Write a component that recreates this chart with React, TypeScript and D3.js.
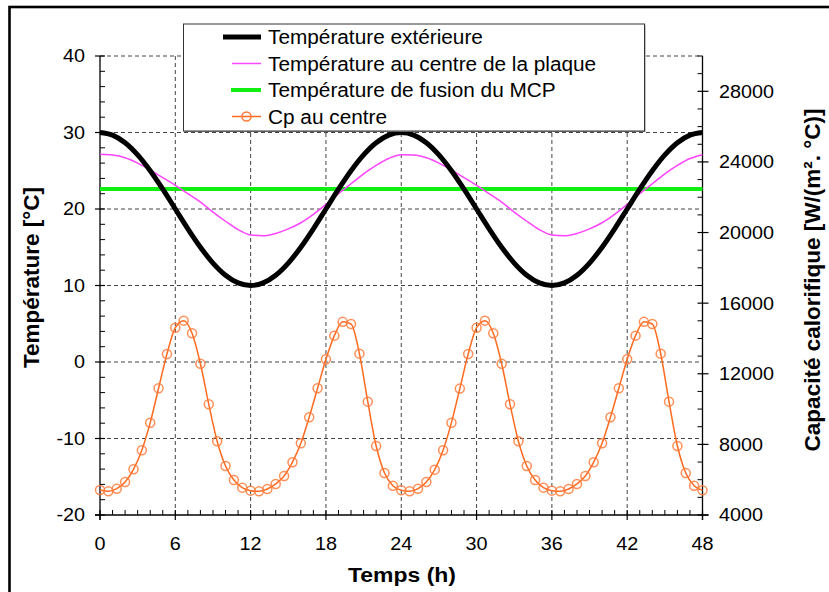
import React from "react";
import * as d3 from "d3";

// ---- data ----
const hours: number[] = [
  0, 1, 2, 3, 4, 5, 6, 7, 8, 9, 10, 11, 12, 13, 14, 15, 16, 17, 18, 19, 20, 21, 22, 23, 24,
  25, 26, 27, 28, 29, 30, 31, 32, 33, 34, 35, 36, 37, 38, 39, 40, 41, 42, 43, 44, 45, 46, 47, 48,
];
const tempExterieure: number[] = [
  30.0, 29.66, 28.66, 27.07, 25.0, 22.59, 20.0, 17.41, 15.0, 12.93, 11.34, 10.34, 10.0,
  10.34, 11.34, 12.93, 15.0, 17.41, 20.0, 22.59, 25.0, 27.07, 28.66, 29.66, 30.0,
  29.66, 28.66, 27.07, 25.0, 22.59, 20.0, 17.41, 15.0, 12.93, 11.34, 10.34, 10.0,
  10.34, 11.34, 12.93, 15.0, 17.41, 20.0, 22.59, 25.0, 27.07, 28.66, 29.66, 30.0,
];
const tempCentre: number[] = [
  27.15, 27.05, 26.7, 26.0, 25.1, 24.1, 23.1, 22.0, 20.9, 19.6, 18.4, 17.3, 16.6,
  16.5, 16.8, 17.4, 18.2, 19.3, 20.6, 22.0, 23.3, 24.6, 25.7, 26.6, 27.1,
  27.05, 26.7, 26.0, 25.1, 24.1, 23.1, 22.0, 20.9, 19.6, 18.4, 17.3, 16.6,
  16.5, 16.8, 17.4, 18.2, 19.3, 20.6, 22.0, 23.3, 24.6, 25.7, 26.6, 27.1,
];
const tempFusion = 22.6;
const cpCentre: number[] = [
  5420, 5340, 5490, 5870, 6590, 7670, 9230, 11180, 13120, 14610, 15010, 14300, 12570,
  10270, 8180, 6780, 5980, 5550, 5380, 5340, 5470, 5760, 6210, 6990, 8060, 9540,
  11180, 12820, 14160, 14940, 14820, 13140, 10420, 7910, 6380, 5660, 5400, 5340,
  5490, 5870, 6570, 7670, 9230, 11160, 13120, 14610, 15010, 14300, 12570, 10270,
  8180, 6780, 5980, 5550, 5380, 5340, 5470, 5760, 6210, 6990, 8060, 9540, 11180,
  12820, 14160, 14940, 14820, 13140, 10420, 7910, 6380, 5660, 5400,
];
const cpTime: number[] = cpCentre.map((_, i) => (i * 48) / (cpCentre.length - 1));

const xTicks: number[] = [0, 6, 12, 18, 24, 30, 36, 42, 48];
const yLeftTicks: number[] = [-20, -10, 0, 10, 20, 30, 40];
const yRightTicks: number[] = [4000, 8000, 12000, 16000, 20000, 24000, 28000];

const legendLabels: string[] = [
  "Température extérieure",
  "Température au centre de la plaque",
  "Température de fusion du MCP",
  "Cp au centre",
];
const xTitle = "Temps (h)";
const yLeftTitle = "Température [°C]";
const yRightTitle = "Capacité calorifique [W/(m². °C)]";

const FONT = "'Liberation Sans', Arial, Helvetica, sans-serif";

export default function App() {
  const W = 829;
  const H = 592;
  const x0 = 100, x1 = 702.5, yTop = 56, yBot = 515;

  const x = d3.scaleLinear().domain([0, 48]).range([x0, x1]);
  const yL = d3.scaleLinear().domain([-20, 40]).range([yBot, yTop]);
  const yR = d3.scaleLinear().domain([4000, 30000]).range([yBot, yTop]);

  const lineL = d3
    .line<number>()
    .x((_, i) => x(hours[i]))
    .y((d) => yL(d))
    .curve(d3.curveMonotoneX);
  const lineCp = d3
    .line<number>()
    .x((_, i) => x(cpTime[i]))
    .y((d) => yR(d))
    .curve(d3.curveMonotoneX);

  const xMinor = d3.range(0, 49, 1).filter((v) => v % 6 !== 0);
  const yLMinor = d3.range(-20, 41, 2).filter((v) => v % 10 !== 0);
  const yRMinor = d3.range(4000, 30001, 1000).filter((v) => v % 4000 !== 0);

  const gridColor = "#444";
  const orange = "#ff6a1f";

  const legendRowsY = [37, 63.5, 90, 116.5];

  return (
    <svg
      width={W}
      height={H}
      style={{ position: "absolute", left: 0, top: 0, background: "#fff" }}
      fontFamily={FONT}
    >
      <rect x={0} y={0} width={W} height={H} fill="#fff" />
      {/* outer frame */}
      <rect x={9.5} y={7} width={900} height={700} fill="none" stroke="#000" strokeWidth={2.6} />

      {/* grid */}
      {xTicks.filter((t) => t !== 0 && t !== 48).map((t) => (
        <line key={"gx" + t} x1={x(t)} x2={x(t)} y1={yTop} y2={yBot} stroke={gridColor} strokeWidth={1} strokeDasharray="4,3" />
      ))}
      {yLeftTicks.filter((t) => t !== -20).map((t) => (
        <line key={"gy" + t} x1={x0} x2={x1} y1={yL(t)} y2={yL(t)} stroke={gridColor} strokeWidth={1} strokeDasharray="4,3" />
      ))}

      {/* axes lines */}
      <line x1={x0} x2={x0} y1={yTop} y2={yBot + 5} stroke="#000" strokeWidth={1.3} />
      <line x1={x1} x2={x1} y1={yTop} y2={yBot + 5} stroke="#000" strokeWidth={1.3} />
      <line x1={x0 - 5} x2={x1 + 6} y1={yBot} y2={yBot} stroke="#000" strokeWidth={1.3} />

      {/* left ticks */}
      {yLeftTicks.map((t) => (
        <line key={"lt" + t} x1={x0 - 5} x2={x0 + 5} y1={yL(t)} y2={yL(t)} stroke="#000" strokeWidth={1.2} />
      ))}
      {yLMinor.map((t) => (
        <line key={"lm" + t} x1={x0} x2={x0 + 5} y1={yL(t)} y2={yL(t)} stroke="#000" strokeWidth={1} />
      ))}
      {/* right ticks */}
      {yRightTicks.map((t) => (
        <line key={"rt" + t} x1={x1 - 5} x2={x1 + 6} y1={yR(t)} y2={yR(t)} stroke="#000" strokeWidth={1.2} />
      ))}
      {yRMinor.map((t) => (
        <line key={"rm" + t} x1={x1 - 5} x2={x1} y1={yR(t)} y2={yR(t)} stroke="#000" strokeWidth={1} />
      ))}
      {/* bottom ticks */}
      {xTicks.map((t) => (
        <line key={"bt" + t} x1={x(t)} x2={x(t)} y1={yBot - 5} y2={yBot + 5} stroke="#000" strokeWidth={1.2} />
      ))}
      {xMinor.map((t) => (
        <line key={"bm" + t} x1={x(t)} x2={x(t)} y1={yBot - 5} y2={yBot} stroke="#000" strokeWidth={1} />
      ))}

      {/* tick labels */}
      {yLeftTicks.map((t) => (
        <text key={"ll" + t} transform={`translate(85,${yL(t)}) scale(1.1,1)`} textAnchor="end" dy="0.36em" fontSize={18}>
          {t}
        </text>
      ))}
      {yRightTicks.map((t) => (
        <text key={"rl" + t} transform={`translate(719,${yR(t)}) scale(1.1,1)`} textAnchor="start" dy="0.36em" fontSize={18}>
          {t}
        </text>
      ))}
      {xTicks.map((t) => (
        <text key={"xl" + t} transform={`translate(${x(t)},544) scale(1.1,1)`} textAnchor="middle" dy="0.36em" fontSize={18}>
          {t}
        </text>
      ))}

      {/* axis titles */}
      <text transform={`translate(402,575) scale(1.12,1)`} textAnchor="middle" dy="0.36em" fontSize={20.5} fontWeight="bold">
        {xTitle}
      </text>
      <text transform={`translate(31,277.5) rotate(-90)`} textAnchor="middle" dy="0.36em" fontSize={22.5} fontWeight="bold">
        {yLeftTitle}
      </text>
      <text transform={`translate(812,280) rotate(-90)`} textAnchor="middle" dy="0.36em" fontSize={22.5} fontWeight="bold">
        {yRightTitle}
      </text>

      {/* series */}
      <line x1={x0} x2={x1} y1={yL(tempFusion)} y2={yL(tempFusion)} stroke="#11ee11" strokeWidth={4} />
      <path d={lineL(tempCentre) || ""} fill="none" stroke="#ff44ff" strokeWidth={1.5} />
      <path d={lineL(tempExterieure) || ""} fill="none" stroke="#000" strokeWidth={5} />
      <path d={lineCp(cpCentre) || ""} fill="none" stroke={orange} strokeWidth={1.5} />
      {cpCentre.map((v, i) => (
        <circle key={"cp" + i} cx={x(cpTime[i])} cy={yR(v)} r={4.5} fill="none" stroke="#ff7a3a" strokeOpacity={0.85} strokeWidth={1.5} />
      ))}

      {/* legend */}
      <rect x={184.5} y={25} width={461} height={107} fill="#888" />
      <rect x={183.5} y={24} width={461} height={107} fill="#fff" stroke="#333" strokeWidth={1} />
      <line x1={223} x2={261} y1={legendRowsY[0]} y2={legendRowsY[0]} stroke="#000" strokeWidth={5} />
      <line x1={232} x2={261} y1={legendRowsY[1]} y2={legendRowsY[1]} stroke="#ff44ff" strokeWidth={1.5} />
      <line x1={231} x2={261} y1={legendRowsY[2]} y2={legendRowsY[2]} stroke="#11ee11" strokeWidth={4} />
      <line x1={232} x2={261} y1={legendRowsY[3]} y2={legendRowsY[3]} stroke={orange} strokeWidth={1.5} />
      <circle cx={246.5} cy={legendRowsY[3]} r={4.5} fill="none" stroke="#ff7a3a" strokeWidth={1.5} />
      {legendLabels.map((l, i) => (
        <text key={"lg" + i} transform={`translate(268,${legendRowsY[i]}) scale(1.04,1)`} dy="0.36em" fontSize={20}>
          {l}
        </text>
      ))}
    </svg>
  );
}
